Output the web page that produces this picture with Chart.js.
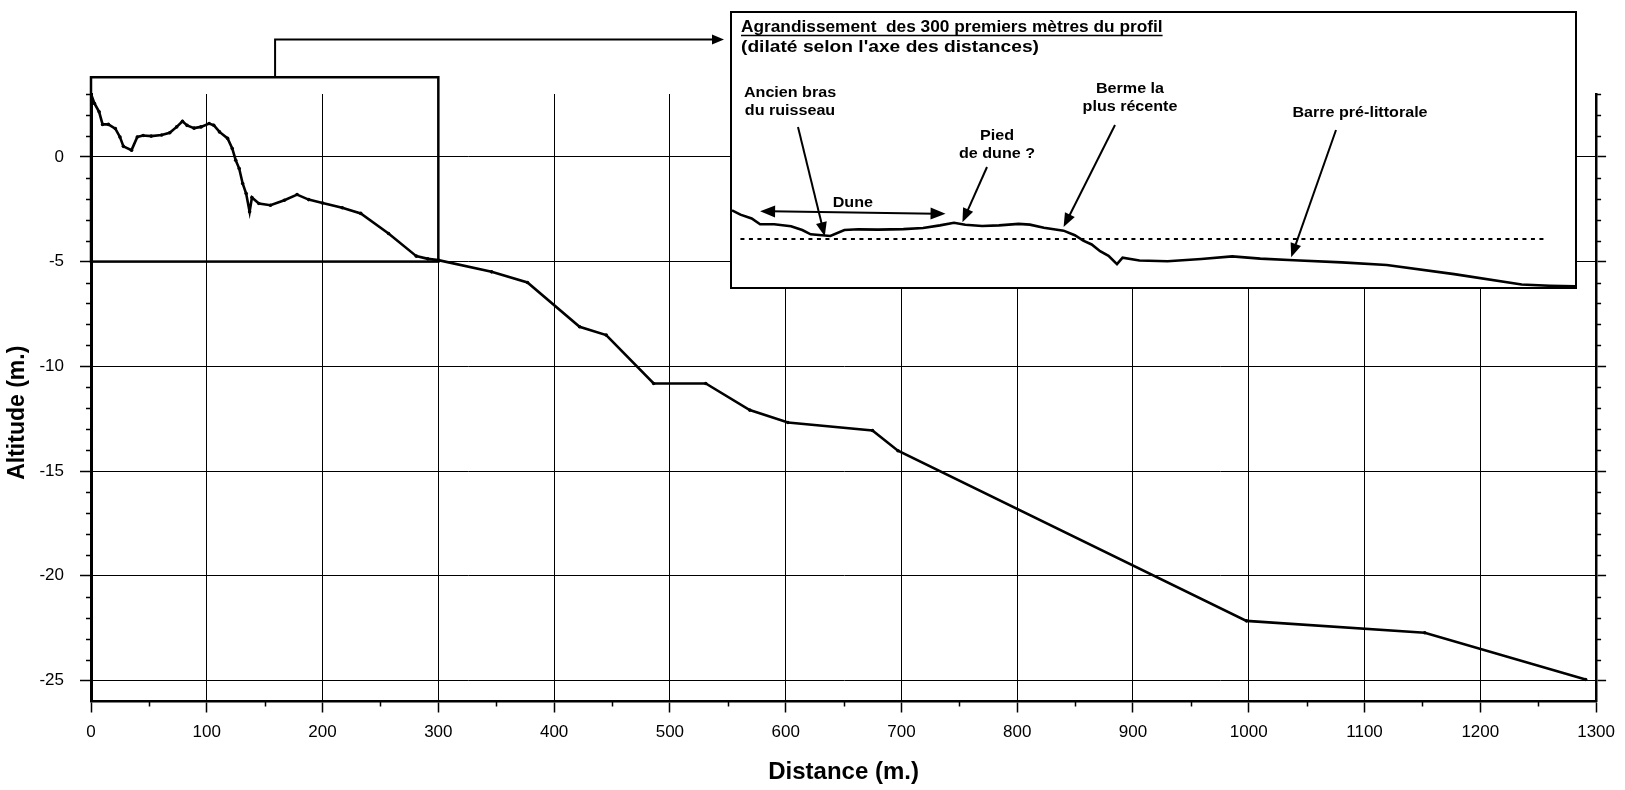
<!DOCTYPE html>
<html lang="fr">
<head>
<meta charset="utf-8">
<title>Profil topographique</title>
<script src="https://cdn.jsdelivr.net/npm/chart.js@4.4.1/dist/chart.umd.min.js"></script>
<style>
  html, body { margin: 0; padding: 0; background: #fff; }
  #wrap { position: relative; width: 1625px; height: 790px; }
  #profil { position: absolute; left: 0; top: 0; }
  #encart { position: absolute; left: 730px; top: 11px; width: 843px; height: 274px; border: 2px solid #000; background: #fff; }
  #encart canvas { display: block; }
</style>
</head>
<body>
<div id="wrap">
  <canvas id="profil" width="1625" height="790"></canvas>
  <div id="encart"><canvas id="zoom" width="843" height="274"></canvas></div>
</div>
<script>
// Profil : distance (m) / altitude (m), relevés
const DISTANCE = [0, 3, 7, 10, 15, 21, 25, 28, 35, 40, 45, 52, 61, 68, 74, 79, 83, 89, 95, 102,
    106, 111, 118, 122, 125, 128, 131, 134, 137, 139, 145, 155, 167, 178, 188, 200, 217, 233, 257, 281,
    291, 300, 346, 377, 422, 445, 486, 531, 569, 602, 675, 697, 998, 1152, 1291];
const ALTITUDE = [3.0, 2.55, 2.15, 1.55, 1.55, 1.35, 0.95, 0.5, 0.32, 0.95, 1.02, 0.99, 1.04, 1.15, 1.43, 1.7, 1.5, 1.37, 1.43, 1.59,
    1.51, 1.19, 0.88, 0.4, -0.16, -0.56, -1.27, -1.75, -2.62, -1.94, -2.23, -2.31, -2.07, -1.8, -2.04, -2.2, -2.43, -2.7, -3.66, -4.74,
    -4.87, -4.93, -5.49, -6.0, -8.11, -8.51, -10.82, -10.82, -12.09, -12.68, -13.06, -14.03, -22.15, -22.72, -24.95];

const X_TICKS = [0, 100, 200, 300, 400, 500, 600, 700, 800, 900, 1000, 1100, 1200, 1300];
const Y_TICKS = [-25, -20, -15, -10, -5, 0];

// agrandissement des 300 premiers mètres
const ZOOM_RANGE = [0, 300];
const SEA_LEVEL = 0;
const SEA_LEVEL_FROM_TO = [3, 289];
const DUNE_FROM_TO = [10, 76];

const FONT = "'Liberation Sans', Arial, Helvetica, sans-serif";
Chart.defaults.font.family = FONT;
Chart.defaults.color = "#000";

const points = DISTANCE.map((d, i) => ({ x: d, y: ALTITUDE[i] }));
const setTicks = (list) => (scale) => { scale.ticks = list.map(value => ({ value })); };

// cadre autour des 300 premiers mètres + renvoi vers l'encart (positions en unités du graphe)
const LINK = { boxTop: 3.8, boxBottom: -5, stemX: 159, stemTop: 5.6 };

const minorTicks = {
    id: "minorTicks",
    afterDraw(chart) {
        const { ctx, chartArea: a, scales: { x, y } } = chart;
        ctx.save();
        ctx.strokeStyle = "#000";
        ctx.lineWidth = 1.5;
        ctx.beginPath();
        for (let v = Math.ceil(y.min) + 1; v <= y.max; v++) {
            if (v % 5 === 0) continue;
            const py = Math.round(y.getPixelForValue(v)) + 0.5;
            ctx.moveTo(a.left - 5, py); ctx.lineTo(a.left, py);
            ctx.moveTo(a.right, py); ctx.lineTo(a.right + 5, py);
        }
        for (let v = 50; v < x.max; v += 100) {
            const px = Math.round(x.getPixelForValue(v)) + 0.5;
            ctx.moveTo(px, a.bottom); ctx.lineTo(px, a.bottom + 5);
        }
        ctx.stroke();

        // titre de l'axe vertical, un peu sous le milieu comme sur l'original
        ctx.font = "bold 23px " + FONT;
        ctx.fillStyle = "#000";
        ctx.textAlign = "center";
        ctx.textBaseline = "middle";
        ctx.translate(18, (a.top + a.bottom) / 2 + 15);
        ctx.rotate(-Math.PI / 2);
        ctx.fillText("Altitude (m.)", 0, 0);
        ctx.restore();
    }
};

const zoomBox = {
    id: "zoomBox",
    afterDatasetsDraw(chart) {
        const { ctx, scales: { x, y } } = chart;
        const left = x.getPixelForValue(ZOOM_RANGE[0]);
        const right = x.getPixelForValue(ZOOM_RANGE[1]);
        const top = y.getPixelForValue(LINK.boxTop);
        const bottom = y.getPixelForValue(LINK.boxBottom);
        const sx = x.getPixelForValue(LINK.stemX);
        const sy = y.getPixelForValue(LINK.stemTop);
        const endX = document.getElementById("encart").offsetLeft - 6;

        ctx.save();
        ctx.strokeStyle = "#000";
        ctx.fillStyle = "#000";
        ctx.lineWidth = 2.5;
        ctx.strokeRect(left, top, right - left, bottom - top);

        ctx.lineWidth = 2;
        ctx.beginPath();
        ctx.moveTo(sx, top);
        ctx.lineTo(sx, sy);
        ctx.lineTo(endX - 10, sy);
        ctx.stroke();
        ctx.beginPath();
        ctx.moveTo(endX, sy);
        ctx.lineTo(endX - 12, sy - 5);
        ctx.lineTo(endX - 12, sy + 5);
        ctx.closePath();
        ctx.fill();
        ctx.restore();
    }
};

const mainChart = new Chart(document.getElementById("profil"), {
    type: "line",
    data: {
        datasets: [{
            data: points,
            borderColor: "#000",
            borderWidth: 2.6,
            pointRadius: 1.8,
            pointBackgroundColor: "#000",
            pointBorderWidth: 0,
            tension: 0,
            fill: false,
        }],
    },
    options: {
        responsive: false,
        animation: false,
        layout: { padding: { top: 94, right: 10, left: 0, bottom: 0 } },
        plugins: { legend: { display: false }, tooltip: { enabled: false } },
        scales: {
            x: {
                type: "linear",
                min: 0,
                max: 1300,
                afterBuildTicks: setTicks(X_TICKS),
                afterFit: (s) => { s.height = 88.5; },
                grid: { color: "#000", lineWidth: 1, tickLength: 11, tickColor: "#000", tickWidth: 1.5 },
                border: { color: "#000", width: 2.5 },
                ticks: { font: { size: 17 }, color: "#000", padding: 10, maxRotation: 0, autoSkip: false, callback: (v) => String(v) },
                title: { display: true, text: "Distance (m.)", color: "#000", font: { size: 24, weight: "bold" }, padding: { top: 0, bottom: 3 } },
            },
            y: {
                type: "linear",
                position: "left",
                min: -26,
                max: 3,
                afterBuildTicks: setTicks(Y_TICKS),
                afterFit: (s) => { s.width = 91; },
                grid: { color: "#000", lineWidth: 1, tickLength: 11, tickColor: "#000", tickWidth: 1.5 },
                border: { color: "#000", width: 3 },
                ticks: { font: { size: 17 }, color: "#000", padding: 16, callback: (v) => String(v) },
            },
            y2: {
                type: "linear",
                position: "right",
                min: -26,
                max: 3,
                afterBuildTicks: setTicks(Y_TICKS),
                afterFit: (s) => { s.width = 11.5; },
                grid: { drawOnChartArea: false, tickLength: 10, tickColor: "#000", tickWidth: 1.5 },
                border: { color: "#000", width: 2.5 },
                ticks: { display: false },
            },
        },
    },
    plugins: [minorTicks, zoomBox],
});

// ---- encart : même profil, dilaté selon les distances ----
const NOTES = [
    { lines: ["Ancien bras", "du ruisseau"], x: 58, y: 84, from: [66, 114], to: [33, 0.3] },
    { lines: ["Pied", "de dune ?"], x: 265, y: 127, from: [255, 154], to: [82, 1.75] },
    { lines: ["Berme la", "plus récente"], x: 398, y: 80, from: [383, 112], to: [118, 1.25] },
    { lines: ["Barre pré-littorale"], x: 628, y: 104, from: [604, 117], to: [199, -1.9] },
];

// police étirée horizontalement comme sur l'original
const stretchText = (ctx, txt, x, y, align, sx) => {
    const w = ctx.measureText(txt).width * sx;
    const x0 = align === "center" ? x - w / 2 : x;
    ctx.save();
    ctx.translate(x0, y);
    ctx.scale(sx, 1);
    ctx.textAlign = "left";
    ctx.fillText(txt, 0, 0);
    ctx.restore();
    return { x0, w };
};

const arrowHead = (ctx, x1, y1, x2, y2, len, half) => {
    const ang = Math.atan2(y2 - y1, x2 - x1);
    ctx.beginPath();
    ctx.moveTo(x2, y2);
    ctx.lineTo(x2 - len * Math.cos(ang) + half * Math.sin(ang), y2 - len * Math.sin(ang) - half * Math.cos(ang));
    ctx.lineTo(x2 - len * Math.cos(ang) - half * Math.sin(ang), y2 - len * Math.sin(ang) + half * Math.cos(ang));
    ctx.closePath();
    ctx.fill();
};

const arrow = (ctx, x1, y1, x2, y2) => {
    const ang = Math.atan2(y2 - y1, x2 - x1);
    ctx.beginPath();
    ctx.moveTo(x1, y1);
    ctx.lineTo(x2 - 10 * Math.cos(ang), y2 - 10 * Math.sin(ang));
    ctx.stroke();
    arrowHead(ctx, x1, y1, x2, y2, 14, 5.5);
};

const insetNotes = {
    id: "insetNotes",
    afterDraw(chart) {
        const { ctx, chartArea: a, scales: { x, y } } = chart;
        ctx.save();
        ctx.fillStyle = "#000";
        ctx.strokeStyle = "#000";
        ctx.textBaseline = "alphabetic";

        // titre
        ctx.font = "bold 16px " + FONT;
        const t = stretchText(ctx, "Agrandissement  des 300 premiers mètres du profil", a.left + 9, a.top + 19, "left", 1.08);
        ctx.lineWidth = 1.5;
        ctx.beginPath();
        ctx.moveTo(t.x0, a.top + 22.5);
        ctx.lineTo(t.x0 + t.w, a.top + 22.5);
        ctx.stroke();
        stretchText(ctx, "(dilaté selon l'axe des distances)", a.left + 9, a.top + 39, "left", 1.2);

        // annotations
        ctx.font = "bold 14px " + FONT;
        ctx.lineWidth = 2;
        NOTES.forEach((n) => {
            n.lines.forEach((line, i) => stretchText(ctx, line, a.left + n.x, a.top + n.y + i * 18, "center", 1.15));
            arrow(ctx, a.left + n.from[0], a.top + n.from[1], x.getPixelForValue(n.to[0]), y.getPixelForValue(n.to[1]));
        });

        // dune : double flèche
        const dx1 = x.getPixelForValue(DUNE_FROM_TO[0]), dy1 = y.getPixelForValue(2.9);
        const dx2 = x.getPixelForValue(DUNE_FROM_TO[1]), dy2 = y.getPixelForValue(2.65);
        stretchText(ctx, "Dune", (dx1 + dx2) / 2, a.top + 194, "center", 1.15);
        ctx.beginPath();
        ctx.moveTo(dx1 + 10, dy1);
        ctx.lineTo(dx2 - 10, dy2);
        ctx.stroke();
        arrowHead(ctx, dx2, dy2, dx1, dy1, 15, 6);
        arrowHead(ctx, dx1, dy1, dx2, dy2, 15, 6);
        ctx.restore();
    }
};

const zoomChart = new Chart(document.getElementById("zoom"), {
    type: "line",
    data: {
        datasets: [
            {
                data: points.filter(p => p.x <= ZOOM_RANGE[1]),
                borderColor: "#000",
                borderWidth: 2.6,
                pointRadius: 0,
                tension: 0,
            },
            {
                data: SEA_LEVEL_FROM_TO.map(d => ({ x: d, y: SEA_LEVEL })),
                borderColor: "#000",
                borderWidth: 2,
                borderDash: [4, 4.5],
                pointRadius: 0,
            },
        ],
    },
    options: {
        responsive: false,
        animation: false,
        layout: { padding: 0 },
        plugins: { legend: { display: false }, tooltip: { enabled: false } },
        scales: {
            x: { type: "linear", display: false, min: ZOOM_RANGE[0], max: ZOOM_RANGE[1] },
            y: { type: "linear", display: false, min: -5, max: 23.6 },
        },
    },
    plugins: [insetNotes],
});
</script>
</body>
</html>
